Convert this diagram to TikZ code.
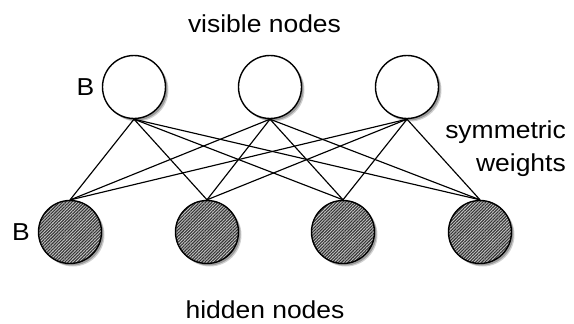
\documentclass[tikz,border=0pt]{standalone}
\usepackage{fontspec}
\setmainfont{Liberation Sans}
\usetikzlibrary{shadows,patterns.meta}
\begin{document}
\begin{tikzpicture}[x=1pt,y=-1pt,
  unit/.style={circle,draw=black,line width=1.4pt,minimum size=63pt,inner sep=0pt,
    drop shadow={shadow xshift=3pt,shadow yshift=-3pt,opacity=.18,fill=black},
    drop shadow={shadow xshift=2pt,shadow yshift=-2pt,opacity=.25,fill=black}},
  visunit/.style={unit,fill=white},
  hidunit/.style={unit,preaction={fill=black!22},
    pattern={Lines[angle=45,distance=2.2pt,line width=1.1pt]},pattern color=black!80},
  lbl/.style={font=\fontsize{24.5}{28}\selectfont,inner sep=0pt,xscale=1.08,text=black},
  wire/.style={line width=1.15pt,black}]
\useasboundingbox[fill=white] (0,0) rectangle (574,324);
\node[visunit] (v1) at (134,87) {};
\node[visunit] (v2) at (270,87) {};
\node[visunit] (v3) at (407,87) {};
\node[hidunit] (h1) at (70,232) {};
\node[hidunit] (h2) at (207,232) {};
\node[hidunit] (h3) at (343,232) {};
\node[hidunit] (h4) at (480,232) {};
\foreach \v in {v1,v2,v3}{
  \foreach \h in {h1,h2,h3,h4}{
    \draw[wire] (\v.south) -- (\h.north);
  }
}
\node[lbl,anchor=base] (tv) at (264.5,32) {visible nodes};
\node[lbl,anchor=base] (th) at (265,318) {hidden nodes};
\node[lbl,anchor=base east] (ts) at (566,138.5) {symmetric};
\node[lbl,anchor=base east] (tw) at (566,171.5) {weights};
\node[lbl,anchor=base] (b1) at (85.5,95) {B};
\node[lbl,anchor=base] (b2) at (21,240) {B};
\end{tikzpicture}
\end{document}
